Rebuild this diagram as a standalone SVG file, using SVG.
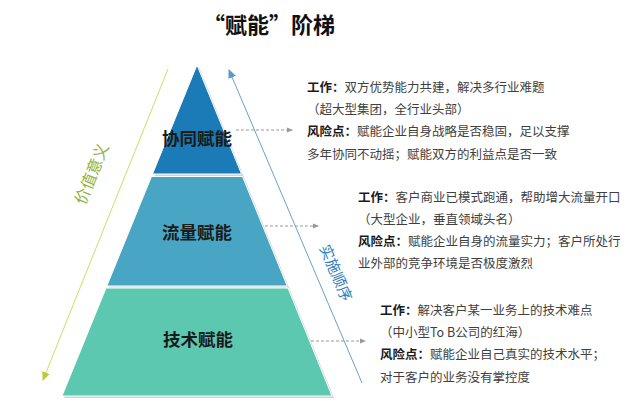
<svg xmlns="http://www.w3.org/2000/svg" width="640" height="401" viewBox="0 0 640 401">
<style>
.t{font-family:"Noto Sans CJK SC","Noto Sans",sans-serif;}
.title{font-size:22px;font-weight:bold;fill:#111;}
.lbl{font-size:17.5px;font-weight:bold;fill:#1a1a1a;text-anchor:middle;}
.body{font-size:12.5px;fill:#404040;}
.b{font-weight:bold;fill:#1a1a1a;}
.dash{stroke:#9a9a9a;stroke-width:1;stroke-dasharray:3 2;fill:none;}
</style>
<defs>
<marker id="ag" markerWidth="6" markerHeight="6" refX="5" refY="3" orient="auto" markerUnits="userSpaceOnUse"><path d="M0,0.5 L6,3 L0,5.5 Z" fill="#9a9a9a"/></marker>
<marker id="ay" markerWidth="10" markerHeight="10" refX="8" refY="4" orient="auto" markerUnits="userSpaceOnUse"><path d="M0,0 L9,4 L0,8 Z" fill="#b9cc3c"/></marker>
<marker id="ab" markerWidth="10" markerHeight="10" refX="8" refY="4" orient="auto" markerUnits="userSpaceOnUse"><path d="M0,0 L9,4 L0,8 Z" fill="#5f97c6"/></marker>
</defs>
<rect width="640" height="401" fill="#fff"/>
<text class="t title" x="203" y="33">“赋能”阶梯</text>
<g id="shadow">
<polygon points="199,67 334,398 64,398" fill="#cfd3d6"/>
</g>
<g id="tier-top">
<polygon points="197,65 241.5,174 152.5,174" fill="#1b7bb6" stroke="#fff" stroke-width="1"/>
<text class="t lbl" x="197" y="145">协同赋能</text>
</g>
<g id="tier-mid">
<polygon points="151.5,176.5 242.5,176.5 287.2,286 106.8,286" fill="#48a6c4" stroke="#fff" stroke-width="1"/>
<text class="t lbl" x="197" y="239">流量赋能</text>
</g>
<g id="tier-bot">
<polygon points="106,288 288,288 332,396 62,396" fill="#5cc8b0" stroke="#fff" stroke-width="1"/>
<text class="t lbl" x="198" y="346">技术赋能</text>
</g>
<g id="connectors">
<line x1="168" y1="69" x2="43" y2="380" stroke="#cfdb66" stroke-width="1" marker-end="url(#ay)"/>
<line x1="362" y1="383" x2="229" y2="70" stroke="#6aa0c8" stroke-width="1" marker-end="url(#ab)"/>
<line class="dash" x1="236" y1="130" x2="292" y2="130" marker-end="url(#ag)"/>
<line class="dash" x1="265" y1="226" x2="318" y2="226" marker-end="url(#ag)"/>
<line class="dash" x1="311" y1="341" x2="365" y2="341" marker-end="url(#ag)"/>
</g>
<g id="axis-labels">
<text class="t" font-size="16" fill="#8fb23a" text-anchor="middle" transform="translate(97,176) rotate(-68)">价值意义</text>
<text class="t" font-size="15" fill="#2f80c0" text-anchor="middle" transform="translate(331,275) rotate(67)">实施顺序</text>
</g>
<g id="desc-top">
<text class="t body" x="307" y="92"><tspan class="b">工作：</tspan>双方优势能力共建，解决多行业难题</text>
<text class="t body" x="307" y="114">（超大型集团，全行业头部）</text>
<text class="t body" x="307" y="136"><tspan class="b">风险点：</tspan>赋能企业自身战略是否稳固，足以支撑</text>
<text class="t body" x="307" y="159">多年协同不动摇；赋能双方的利益点是否一致</text>
</g>
<g id="desc-mid">
<text class="t body" x="358" y="202"><tspan class="b">工作：</tspan>客户商业已模式跑通，帮助增大流量开口</text>
<text class="t body" x="358" y="224">（大型企业，垂直领域头名）</text>
<text class="t body" x="358" y="246"><tspan class="b">风险点：</tspan>赋能企业自身的流量实力；客户所处行</text>
<text class="t body" x="358" y="268">业外部的竞争环境是否极度激烈</text>
</g>
<g id="desc-bot">
<text class="t body" x="380" y="315"><tspan class="b">工作：</tspan>解决客户某一业务上的技术难点</text>
<text class="t body" x="380" y="337">（中小型To B公司的红海）</text>
<text class="t body" x="380" y="359"><tspan class="b">风险点：</tspan>赋能企业自己真实的技术水平；</text>
<text class="t body" x="380" y="382">对于客户的业务没有掌控度</text>
</g>
</svg>
